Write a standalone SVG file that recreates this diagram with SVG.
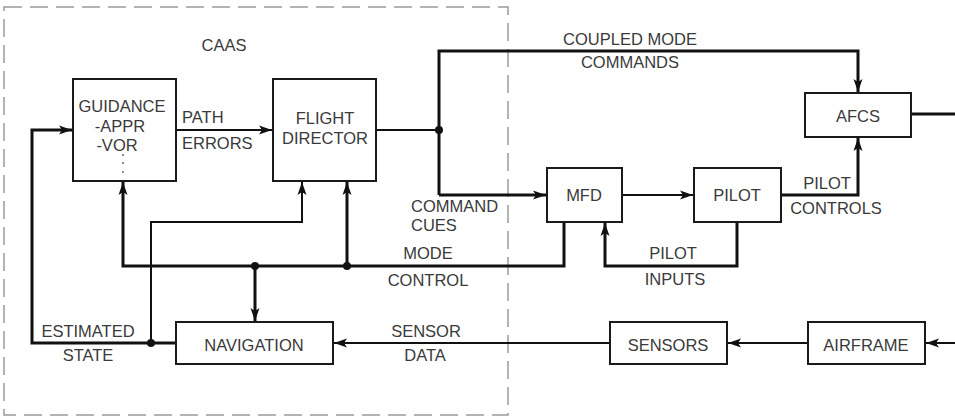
<svg xmlns="http://www.w3.org/2000/svg" width="955" height="419" viewBox="0 0 955 419">
<style>
.box{fill:#fff;stroke:#1a1a1a;stroke-width:2}
.t{font-family:"Liberation Sans",Arial,sans-serif;font-size:16.5px;fill:#3a3a3a;text-anchor:middle;dominant-baseline:central}
.l{text-anchor:start}
.w{fill:none;stroke:#111;stroke-width:2}
.k{fill:none;stroke:#111;stroke-width:3}
.dot{fill:#111}
</style>
<defs>
<marker id="ah" markerUnits="userSpaceOnUse" markerWidth="14" markerHeight="10" viewBox="0 0 14 10" refX="13" refY="5" orient="auto">
<path d="M0,0.5 L13,5 L0,9.5 L3,5 Z" fill="#111"/>
</marker>
</defs>
<rect x="4" y="7" width="504" height="408" fill="none" stroke="#9a9a9a" stroke-width="1.5" stroke-dasharray="18 8"/>
<text class="t" x="224" y="45">CAAS</text>

<g id="connectors">
<path class="w" d="M176,130 H272" marker-end="url(#ah)"/>
<path class="w" d="M376,130 H439"/>
<path class="k" d="M439,195 V51 H858 V92" marker-end="url(#ah)"/>
<path class="k" d="M439,195 H546" marker-end="url(#ah)"/>
<path class="w" d="M622,195 H693" marker-end="url(#ah)"/>
<path class="k" d="M781,195 H858 V138" marker-end="url(#ah)"/>
<path class="k" d="M911,114 H955"/>
<path class="k" d="M737,222 V266 H605 V223" marker-end="url(#ah)"/>
<path class="k" d="M564,222 V266 H123 V182" marker-end="url(#ah)"/>
<path class="k" d="M347,266 V182" marker-end="url(#ah)"/>
<path class="k" d="M255,266 V321" marker-end="url(#ah)"/>
<path class="w" d="M151,343 V222 H302 V182" marker-end="url(#ah)"/>
<path class="k" d="M176,343 H32 V130 H72" marker-end="url(#ah)"/>
<path class="w" d="M610,343 H334" marker-end="url(#ah)"/>
<path class="w" d="M808,343 H728" marker-end="url(#ah)"/>
<path class="w" d="M955,343 H926" marker-end="url(#ah)"/>
<circle class="dot" cx="439" cy="130" r="4"/>
<circle class="dot" cx="347" cy="266" r="4"/>
<circle class="dot" cx="255" cy="266" r="4"/>
<circle class="dot" cx="151" cy="343" r="4"/>
<text class="t l" x="182" y="117">PATH</text>
<text class="t l" x="182" y="143">ERRORS</text>
<text class="t" x="630" y="39">COUPLED MODE</text>
<text class="t" x="630" y="62">COMMANDS</text>
<text class="t l" x="411" y="206">COMMAND</text>
<text class="t l" x="411" y="225">CUES</text>
<text class="t" x="827" y="183">PILOT</text>
<text class="t" x="836" y="208">CONTROLS</text>
<text class="t" x="673" y="253">PILOT</text>
<text class="t" x="675" y="279">INPUTS</text>
<text class="t" x="428" y="253">MODE</text>
<text class="t" x="428" y="280">CONTROL</text>
<text class="t" x="88" y="331">ESTIMATED</text>
<text class="t" x="88" y="355">STATE</text>
<text class="t" x="426" y="331">SENSOR</text>
<text class="t" x="425" y="355">DATA</text>
</g>

<g id="guidance">
<rect class="box" x="73" y="79" width="103" height="102"/>
<text class="t" x="122" y="106">GUIDANCE</text>
<text class="t" x="120" y="126">-APPR</text>
<text class="t" x="117" y="145">-VOR</text>
<circle cx="123" cy="155" r="0.9" fill="#555"/>
<circle cx="123" cy="163" r="0.9" fill="#555"/>
<circle cx="123" cy="172" r="0.9" fill="#555"/>
</g>
<g id="flight-director">
<rect class="box" x="273" y="79" width="103" height="102"/>
<text class="t" x="325" y="118">FLIGHT</text>
<text class="t" x="325" y="138">DIRECTOR</text>
</g>
<g id="afcs">
<rect class="box" x="805" y="93" width="106" height="44"/>
<text class="t" x="858" y="116">AFCS</text>
</g>
<g id="mfd">
<rect class="box" x="547" y="168" width="75" height="54"/>
<text class="t" x="584" y="195">MFD</text>
</g>
<g id="pilot">
<rect class="box" x="694" y="168" width="87" height="54"/>
<text class="t" x="737" y="195">PILOT</text>
</g>
<g id="navigation">
<rect class="box" x="176" y="322" width="157" height="42"/>
<text class="t" x="254" y="345">NAVIGATION</text>
</g>
<g id="sensors">
<rect class="box" x="610" y="322" width="117" height="42"/>
<text class="t" x="668" y="345">SENSORS</text>
</g>
<g id="airframe">
<rect class="box" x="808" y="322" width="117" height="42"/>
<text class="t" x="866" y="345">AIRFRAME</text>
</g>
</svg>
